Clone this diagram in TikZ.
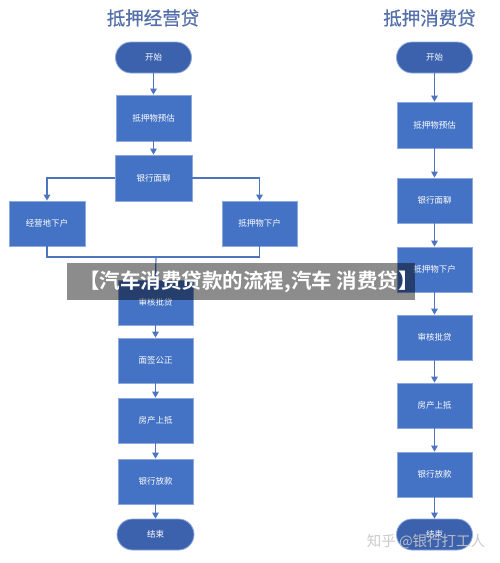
\documentclass[tikz,border=0pt]{standalone}
\usepackage{fontspec}
\newfontfamily\cjk{Noto Sans CJK SC}
\newfontfamily\cjkb{Noto Sans CJK SC Bold}
\newfontfamily\cjkt{Noto Sans CJK SC}[FakeBold=0.6]
\usetikzlibrary{arrows.meta,positioning}
\definecolor{boxblue}{HTML}{4472C4}
\definecolor{boxedge}{HTML}{8EA9DB}
\definecolor{termblue}{HTML}{3C62AE}
\definecolor{linkblue}{HTML}{4D74C0}
\definecolor{titleblue}{HTML}{5470AA}
\tikzset{
  procbox/.style={draw=boxedge, line width=0.8pt, fill=boxblue, minimum width=75pt, minimum height=45pt, inner sep=0pt, text=white, font=\cjk\fontsize{8.5}{10}\selectfont},
  termbox/.style={draw=boxedge, line width=0.8pt, fill=termblue, minimum width=76pt, minimum height=31pt, rounded corners=15.5pt, inner sep=0pt, text=white, font=\cjk\fontsize{8.5}{10}\selectfont},
  titletext/.style={text=titleblue, font=\cjkt\fontsize{18.5}{20}\selectfont, inner sep=0pt},
  link/.style={draw=linkblue, line width=1.2pt, -{Triangle[width=6.5pt,length=6pt]}},
  plainlink/.style={draw=linkblue, line width=1.2pt},
}
\begin{document}
\begin{tikzpicture}[x=1pt,y=-1pt]
\useasboundingbox (0,0) rectangle (500,563);
\fill[white] (0,0) rectangle (500,563);
% titles
\node[titletext] (tl) at (153,18) {抵押经营贷};
\node[titletext] (tr) at (429.5,18) {抵押消费贷};
% left column
\node[termbox] (L0) at (153.5,57.5) {开始};
\node[procbox, minimum height=46pt] (L1) at (153.5,118) {抵押物预估};
\node[procbox, minimum height=46pt, minimum width=77pt] (L2) at (153.5,178) {银行面聊};
\node[procbox, minimum width=76pt] (L3) at (47,223.5) {经营地下户};
\node[procbox] (L4) at (259.5,223.5) {抵押物下户};
\node[procbox] (L5) at (155.5,302.5) {审核批贷};
\node[procbox] (L6) at (155.5,360.5) {面签公正};
\node[procbox] (L7) at (155.5,420.5) {房产上抵};
\node[procbox] (L8) at (155.5,481.5) {银行放款};
\node[termbox, minimum width=77pt] (L9) at (155.5,534.5) {结束};
\coordinate (mg) at (156,257);
\draw[link] (L0) -- (L1);
\draw[link] (L1) -- (L2);
\draw[link] (L2.west) -| (L3.north);
\draw[link] (L2.east) -| (L4.north);
\draw[plainlink] (L3.south) |- (mg) -| (L4.south);
\draw[link] (mg) -- (L5.north);
\draw[link] (L5) -- (L6);
\draw[link] (L6) -- (L7);
\draw[link] (L7) -- (L8);
\draw[link] (L8) -- (L9);
% right column
\node[termbox] (R0) at (434.5,57.5) {开始};
\node[procbox, minimum height=46pt] (R1) at (434.5,125) {抵押物预估};
\node[procbox] (R2) at (434.5,200.5) {银行面聊};
\node[procbox] (R3) at (434.5,269.5) {抵押物下户};
\node[procbox] (R4) at (434.5,337.5) {审核批贷};
\node[procbox] (R5) at (434.5,405.5) {房产上抵};
\node[procbox] (R6) at (434.5,474.5) {银行放款};
\node[termbox] (R7) at (434.5,534.5) {结束};
\draw[link] (R0) -- (R1);
\draw[link] (R1) -- (R2);
\draw[link] (R2) -- (R3);
\draw[link] (R3) -- (R4);
\draw[link] (R4) -- (R5);
\draw[link] (R5) -- (R6);
\draw[link] (R6) -- (R7);
% banner overlay
\fill[black, opacity=0.45] (67,263) rectangle (415,300);
\node[text=white, font=\cjkb\fontsize{20.5}{22}\selectfont, inner sep=0pt] (bn) at (249,282) {【汽车消费贷款的流程,汽车 消费贷】};
% watermark
\node[text=gray!45, font=\cjk\fontsize{14.5}{16}\selectfont, inner sep=0pt, opacity=0.9] (wm) at (426,542) {知乎 @银行打工人};
\end{tikzpicture}
\end{document}
